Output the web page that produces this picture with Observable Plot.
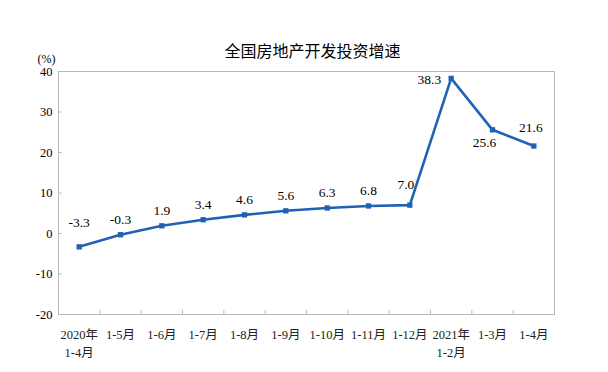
<!DOCTYPE html>
<html><head><meta charset="utf-8">
<script src="https://cdn.jsdelivr.net/npm/d3@7"></script>
<script src="https://cdn.jsdelivr.net/npm/@observablehq/plot@0.6"></script>
<style>body{margin:0;background:#fff;} svg{display:block;}</style>
</head><body><div id="chart"></div>
<script>
const categories = ["2020年\n1-4月","1-5月","1-6月","1-7月","1-8月","1-9月","1-10月","1-11月","1-12月","2021年\n1-2月","1-3月","1-4月"];
const values = [-3.3,-0.3,1.9,3.4,4.6,5.6,6.3,6.8,7.0,38.3,25.6,21.6];
const yTicks = [-20,-10,0,10,20,30,40];
const title = "全国房地产开发投资增速";
const unit = "(%)";

const data = categories.map((c,i)=>({i, c, v: values[i], label: values[i].toFixed(1)}));
const bounds = d3.range(categories.length-1).map(i=>i+0.5);
const serif = "'Liberation Serif','Times New Roman','Noto Sans CJK SC',serif";
const blue = "#1f62b4";
const pick = idx => data.filter(d=>idx.includes(d.i));

const chart = Plot.plot({
  width: 608, height: 372,
  marginLeft: 58, marginRight: 54, marginTop: 71, marginBottom: 58,
  style: {fontFamily: serif, background: "#fff"},
  x: {domain: [-0.5, categories.length-0.5], axis: null},
  y: {domain: [-20, 40], axis: null},
  marks: [
    Plot.frame({stroke: "#b8b8b8"}),
    Plot.ruleX(bounds, {x: d=>d, y1: -20, y2: -19, stroke: "#b8b8b8"}),
    Plot.ruleY(yTicks, {y: d=>d, x1: -0.5, x2: -0.41, stroke: "#b8b8b8"}),
    Plot.text(yTicks, {y: d=>d, frameAnchor: "left", dx: -6, textAnchor: "end", text: d=>String(d), fontSize: 12.5, fill: "#000"}),
    Plot.text(data, {x: "i", y: -20, text: "c", lineAnchor: "top", dy: 12, fontSize: 12.5, lineHeight: 1.45, fill: "#222"}),
    Plot.line(data, {x: "i", y: "v", stroke: blue, strokeWidth: 2.6}),
    Plot.dot(data, {x: "i", y: "v", symbol: "square", r: 3, fill: blue, stroke: "none"}),
    Plot.text(pick([1,2,3,4,5,6,7]), {x: "i", y: "v", text: "label", dy: -15, fontSize: 13.5, fill: "#000"}),
    Plot.text(pick([0]), {x: "i", y: "v", text: "label", dy: -24, fontSize: 13.5, fill: "#000"}),
    Plot.text(pick([8]), {x: "i", y: "v", text: "label", dy: -20, dx: -4, fontSize: 13.5, fill: "#000"}),
    Plot.text(pick([11]), {x: "i", y: "v", text: "label", dy: -18, dx: -3, fontSize: 13.5, fill: "#000"}),
    Plot.text(pick([9]), {x: "i", y: "v", text: "label", dx: -10, dy: 1, textAnchor: "end", fontSize: 13.5, fill: "#000"}),
    Plot.text(pick([10]), {x: "i", y: "v", text: "label", dx: -8, dy: 13, fontSize: 13.5, fill: "#000"}),
    Plot.text([title], {frameAnchor: "top", dy: -26, dx: 6, text: d=>d, fontSize: 16, fontFamily: "'Noto Sans CJK SC',sans-serif", fill: "#000"}),
    Plot.text([unit], {frameAnchor: "top-left", dx: -12, dy: -17, textAnchor: "middle", text: d=>d, fontSize: 12, fill: "#000"})
  ]
});
document.getElementById("chart").append(chart);
</script>
</body></html>
